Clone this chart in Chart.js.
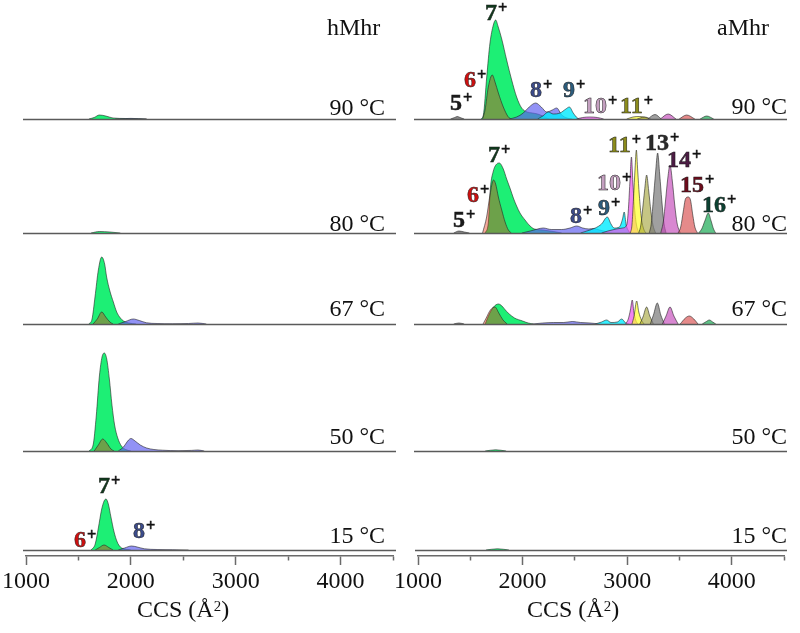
<!DOCTYPE html>
<html>
<head>
<meta charset="utf-8">
<script src="https://cdn.jsdelivr.net/npm/chart.js@4/dist/chart.umd.min.js"></script>
<style>
body{margin:0;background:#fff;width:800px;height:633px;position:relative;overflow:hidden;font-family:"Liberation Serif",serif;}
canvas{position:absolute;}
.t{position:absolute;font-size:24px;line-height:24px;white-space:nowrap;color:#111;}
.q{position:absolute;font-size:24px;line-height:24px;white-space:nowrap;font-weight:bold;-webkit-text-stroke:0.5px #1a1a1a;}
.p{position:relative;top:-0.45em;font-size:0.68em;color:#111;margin-left:1px;}
.s{position:relative;top:-0.42em;font-size:0.62em;}
</style>
</head>
<body>
<script>
/* ===========================
   DATA  (CCS in Å², intensity)
=========================== */

const CCS_TICKS = [1000, 1500, 2000, 2500, 3000, 3500, 4000, 4500];

const TEMPS = ["90 °C", "80 °C", "67 °C", "50 °C", "15 °C"];

// hMhr
const h90_7 = [[1600,0],[1650,1.5],[1700,4],[1760,3],[1830,1],[1950,0.5],[2150,0]];
const h90_8 = [[1850,0],[2000,0.6],[2150,0]];

const h80_7 = [[1620,0],[1700,1.5],[1800,1],[1900,0]];

const h67_7 = [[1600,0],[1630,5],[1658,27],[1690,54],[1722,67],[1750,60],[1769,47],[1800,33],[1833,22],[1865,12],[1900,6],[1930,3],[1980,1],[2050,0]];
const h67_6 = [[1640,0],[1680,5],[1722,12],[1760,7],[1800,2],[1830,0]];
const h67_8 = [[1880,0],[1950,2.5],[2023,5],[2080,3.5],[2150,1.2],[2250,0.5],[2400,0.3],[2550,0.5],[2640,1],[2720,0]];

const h50_7 = [[1600,0],[1640,6],[1670,35],[1700,75],[1725,94],[1747,98],[1770,92],[1795,72],[1820,46],[1845,26],[1875,13],[1910,5],[1950,1.5],[2000,0]];
const h50_6 = [[1650,0],[1690,6],[1732,12],[1770,8],[1810,2],[1840,0]];
const h50_8 = [[1880,0],[1930,4],[1970,10],[2001,12.5],[2040,10],[2090,6],[2150,3],[2220,1.5],[2300,0.8],[2450,0.3],[2580,0.6],[2640,1],[2700,0]];

const h15_7 = [[1620,0],[1660,6],[1690,22],[1720,40],[1745,49],[1763,51],[1785,46],[1810,33],[1840,18],[1870,8],[1900,3],[1940,1],[2000,0]];
const h15_6 = [[1660,0],[1700,2.5],[1744,5],[1790,2.5],[1830,0]];
const h15_8 = [[1880,0],[1940,2],[2007,4],[2060,3],[2130,1.2],[2250,0.5],[2400,0.3],[2550,0]];

// aMhr
const a90_5 = [[1320,0],[1360,1.5],[1385,2.5],[1410,1.5],[1450,0]];
const a90_7 = [[1610,0],[1633,4],[1665,42],[1696,76],[1728,94],[1750,99],[1775,92],[1808,80],[1855,59],[1903,39],[1950,22],[1998,11],[2050,7],[2100,6],[2150,5],[2200,3],[2260,0]];
const a90_6 = [[1625,0],[1649,9],[1680,32],[1718,44],[1744,37],[1776,26],[1823,12],[1871,2],[1900,0]];
const a90_8 = [[1880,0],[1950,2],[2014,6],[2070,12],[2132,16],[2185,12],[2237,7],[2290,9],[2332,11],[2380,4],[2430,1],[2480,0]];
const a90_9 = [[2150,0],[2200,3],[2252,7],[2300,5],[2364,6],[2420,10],[2453,12],[2490,6],[2530,1],[2570,0]];
const a90_10 = [[2520,0],[2580,1.5],[2650,2],[2720,1.5],[2780,0]];
const a90_11 = [[3000,0],[3060,2],[3120,2.5],[3180,1.5],[3220,0]];
const a90_12 = [[3100,0],[3170,2],[3230,0]];
const a90_13 = [[3200,0],[3270,4.5],[3330,0]];
const a90_14 = [[3320,0],[3395,5],[3470,0]];
const a90_15 = [[3500,0],[3572,4],[3650,0]];
const a90_16 = [[3700,0],[3763,3],[3830,0]];

const a80_5 = [[1350,0],[1400,2],[1450,1],[1500,0]];
const a80_7 = [[1650,0],[1680,10],[1700,45],[1728,62],[1760,69],[1785,70],[1823,64],[1855,54],[1890,44],[1919,35],[1950,27],[1982,20],[2030,13],[2078,7],[2120,4],[2200,3],[2300,1.5],[2380,0]];
const a80_6 = [[1625,0],[1664,16],[1696,38],[1730,53],[1750,49],[1776,36],[1808,23],[1840,11],[1871,3],[1900,0]];
const a80_8 = [[2000,0],[2080,2],[2150,4],[2204,5],[2280,3.5],[2380,3.5],[2460,5],[2523,7],[2580,5],[2640,4],[2682,4.5],[2740,3],[2800,1.5],[2860,0]];
const a80_9 = [[2560,0],[2620,2],[2700,5],[2760,9],[2815,16],[2850,9],[2880,5],[2930,6],[2960,14],[2976,21],[2995,8],[3030,0]];
const a80_10 = [[2760,0],[2820,2],[2900,4],[2960,5],[3000,8],[3015,22],[3030,50],[3045,76],[3058,52],[3072,28],[3090,10],[3115,0]];
const a80_11 = [[3035,0],[3050,8],[3065,35],[3080,65],[3092,83],[3105,62],[3120,38],[3140,15],[3165,3],[3185,0]];
const a80_12 = [[3115,0],[3135,8],[3150,22],[3170,42],[3190,58],[3210,42],[3230,22],[3250,8],[3275,0]];
const a80_13 = [[3215,0],[3235,10],[3255,35],[3275,60],[3295,80],[3315,58],[3335,32],[3355,10],[3375,0]];
const a80_14 = [[3325,0],[3350,12],[3370,32],[3392,55],[3413,68],[3435,52],[3458,28],[3480,10],[3510,0]];
const a80_15 = [[3490,0],[3515,6],[3540,22],[3560,34],[3585,36],[3608,33],[3630,18],[3650,6],[3675,0]];
const a80_16 = [[3685,0],[3715,4],[3745,12],[3778,20],[3805,12],[3828,4],[3848,0]];

const a67_5 = [[1350,0],[1400,1],[1450,0]];
const a67_7 = [[1650,0],[1690,10],[1730,17],[1776,20],[1810,18],[1850,13],[1880,10],[1930,6],[2007,3],[2060,1],[2110,0]];
const a67_6 = [[1630,0],[1660,6],[1700,14],[1744,17],[1780,11],[1820,4],[1860,0]];
const a67_8 = [[2100,0],[2200,1],[2300,1.5],[2400,1.5],[2480,2.5],[2560,1.5],[2650,1],[2750,0]];
const a67_9 = [[2700,0],[2760,2],[2809,4],[2850,1.5],[2910,2],[2952,5],[2990,1],[3020,0]];
const a67_10 = [[2990,0],[3015,5],[3035,14],[3053,24],[3068,12],[3085,4],[3105,0]];
const a67_11 = [[3050,0],[3070,8],[3095,23],[3115,12],[3140,4],[3165,0]];
const a67_12 = [[3125,0],[3155,7],[3190,17],[3220,8],[3255,0]];
const a67_13 = [[3225,0],[3255,9],[3292,21],[3325,9],[3360,0]];
const a67_14 = [[3340,0],[3375,8],[3413,17],[3450,8],[3490,0]];
const a67_15 = [[3510,0],[3560,6],[3597,8],[3640,5],[3680,0]];
const a67_16 = [[3720,0],[3760,2.5],[3788,4],[3820,2],[3850,0]];

const a50_7 = [[1650,0],[1750,1.2],[1850,0]];

const a15_7 = [[1650,0],[1760,1.2],[1870,0]];


/* ===========================
   PANELS  (bottom -> top drawing order)
=========================== */

const hPanels = [
    [[7,h90_7],[8,h90_8]],
    [[7,h80_7]],
    [[7,h67_7],[6,h67_6],[8,h67_8]],
    [[7,h50_7],[6,h50_6],[8,h50_8]],
    [[7,h15_7],[6,h15_6],[8,h15_8]]
];

const aPanels = [
    [[5,a90_5],[7,a90_7],[6,a90_6],[8,a90_8],[9,a90_9],[10,a90_10],[11,a90_11],[12,a90_12],[13,a90_13],[14,a90_14],[15,a90_15],[16,a90_16]],
    [[5,a80_5],[7,a80_7],[6,a80_6],[8,a80_8],[9,a80_9],[10,a80_10],[11,a80_11],[12,a80_12],[13,a80_13],[14,a80_14],[15,a80_15],[16,a80_16]],
    [[5,a67_5],[7,a67_7],[6,a67_6],[8,a67_8],[9,a67_9],[10,a67_10],[11,a67_11],[12,a67_12],[13,a67_13],[14,a67_14],[15,a67_15],[16,a67_16]],
    [[7,a50_7]],
    [[7,a15_7]]
];

const FILL = {
    5:"rgba(100,100,100,0.75)",
    6:"rgba(230,45,10,0.4)",
    7:"rgba(10,238,105,0.92)",
    8:"rgba(95,95,240,0.68)",
    9:"rgba(0,235,255,0.8)",
    10:"rgba(235,80,235,0.7)",
    11:"rgba(255,255,40,0.7)",
    12:"rgba(160,160,50,0.6)",
    13:"rgba(120,120,120,0.7)",
    14:"rgba(195,70,185,0.65)",
    15:"rgba(215,75,75,0.65)",
    16:"rgba(40,175,95,0.75)"
};

const LABEL_COLOR = {
    5:"#1a1a1a", 6:"#cc1010", 7:"#0f3a1c", 8:"#3c4c8c", 9:"#2c5c7c",
    10:"#c4a0c0", 11:"#8c8c1c", 13:"#2a2a2a", 14:"#4c1c44", 15:"#6c0c1c", 16:"#0c4232"
};

// charge label placement: charge, left x, baseline y
const LABELS = [
    [7,485,20],[6,464,87],[5,450,110],[8,530,97],[9,563,97],[10,583,113],[11,620,113],
    [7,488,162],[6,467,202],[5,453,227],[8,570,223],[9,598,215],[10,597,190],[11,608,152],
    [13,645,150],[14,667,167],[15,680,192],[16,702,212],
    [7,98,493],[6,74,547],[8,133,538]
];


/* ===========================
   LAYOUT
=========================== */

const ROW_BASE = [119, 233, 324, 451, 550];
const PANEL_H = 110;
const AXIS_GAP = 6;
const AXIS_Y = 556;

const COLS = [
    {left:0, width:400, padL:26, padR:7, right:385, title:"hMhr", titleX:327, ccsX:183},
    {left:392, width:408, padL:25, padR:16, right:787, title:"aMhr", titleX:717, ccsX:573}
];

const TEMP_BASE = [
    [115, 231, 316, 444, 543],
    [114, 231, 316, 444, 543]
];


/* ===========================
   CHARTS
=========================== */

const baselinePlugin = {
    id:"baseline",
    afterDatasetsDraw(chart){
        const {ctx, chartArea, scales} = chart;
        const y = Math.round(scales.y.getPixelForValue(0)) + 0.5;
        ctx.save();
        ctx.strokeStyle = "#5a5a5a";
        ctx.lineWidth = 1.5;
        ctx.beginPath();
        ctx.moveTo(chartArea.left - 3, y);
        ctx.lineTo(chartArea.right + 3, y);
        ctx.stroke();
        ctx.restore();
    }
};

function makePanel(col, row, peaks){

    const c = COLS[col];
    const bottom = row === ROW_BASE.length - 1;
    const top = ROW_BASE[row] - PANEL_H;
    const h = bottom ? 633 - top : PANEL_H + 3;

    const canvas = document.createElement("canvas");
    canvas.width = c.width;
    canvas.height = h;
    canvas.style.left = c.left + "px";
    canvas.style.top = top + "px";
    canvas.style.width = c.width + "px";
    canvas.style.height = h + "px";
    document.body.appendChild(canvas);

    const xScale = {
        type:"linear",
        min:1000,
        max:4500,
        display:bottom,
        afterBuildTicks: s => { s.ticks = CCS_TICKS.map(v => ({value:v})); },
        ticks:{
            autoSkip:false,
            maxRotation:0,
            padding:2,
            color:"#111",
            font:{family:"Liberation Serif", size:24},
            callback: v => v % 1000 === 0 ? String(v) : ""
        },
        grid:{
            drawOnChartArea:false,
            tickLength:9,
            tickColor:"#6a6a6a",
            tickWidth:1.5,
            tickBorderDash: ctx => (ctx.tick && ctx.tick.value % 1000) ? [4, 30] : []
        },
        border:{color:"#6a6a6a", width:1.5}
    };

    if(bottom){
        xScale.afterFit = s => { s.height = 633 - AXIS_Y; };
    }

    new Chart(canvas, {
        type:"line",
        data:{
            datasets: peaks.map(([z, pts], i) => ({
                label: z + "+",
                data: pts.map(p => ({x:p[0], y:p[1]})),
                fill:"origin",
                backgroundColor: FILL[z],
                borderColor:"rgba(35,35,35,0.75)",
                borderWidth:0.8,
                pointRadius:0,
                cubicInterpolationMode:"monotone",
                order:-i
            }))
        },
        options:{
            responsive:false,
            animation:false,
            events:[],
            layout:{padding:{left:c.padL, right:c.padR, top:0, bottom: bottom ? 0 : 3}},
            plugins:{legend:{display:false}, tooltip:{enabled:false}},
            scales:{
                x:xScale,
                y:{
                    display:false,
                    min: bottom ? -AXIS_GAP : 0,
                    max: PANEL_H
                }
            }
        },
        plugins:[baselinePlugin]
    });
}

hPanels.forEach((p, r) => makePanel(0, r, p));
aPanels.forEach((p, r) => makePanel(1, r, p));


/* ===========================
   TEXT
=========================== */

function addText(cls, html, x, baseline, alignRight){
    const d = document.createElement("div");
    d.className = cls;
    d.innerHTML = html;
    d.style.top = (baseline - 20) + "px";
    if(alignRight){
        d.style.right = (800 - x) + "px";
    }
    else{
        d.style.left = x + "px";
    }
    document.body.appendChild(d);
    return d;
}

COLS.forEach((c, ci) => {

    addText("t", c.title, c.titleX, 35, false);

    TEMPS.forEach((t, r) => addText("t", t, c.right, TEMP_BASE[ci][r], true));

    const ccs = addText("t", 'CCS (Å<span class="s">2</span>)', 0, 617, false);
    ccs.style.left = (c.ccsX - ccs.offsetWidth / 2) + "px";
});

LABELS.forEach(([z, x, b]) => {
    addText("q", '<span style="color:' + LABEL_COLOR[z] + '">' + z + '</span><span class="p">+</span>', x, b, false);
});
</script>
</body>
</html>
